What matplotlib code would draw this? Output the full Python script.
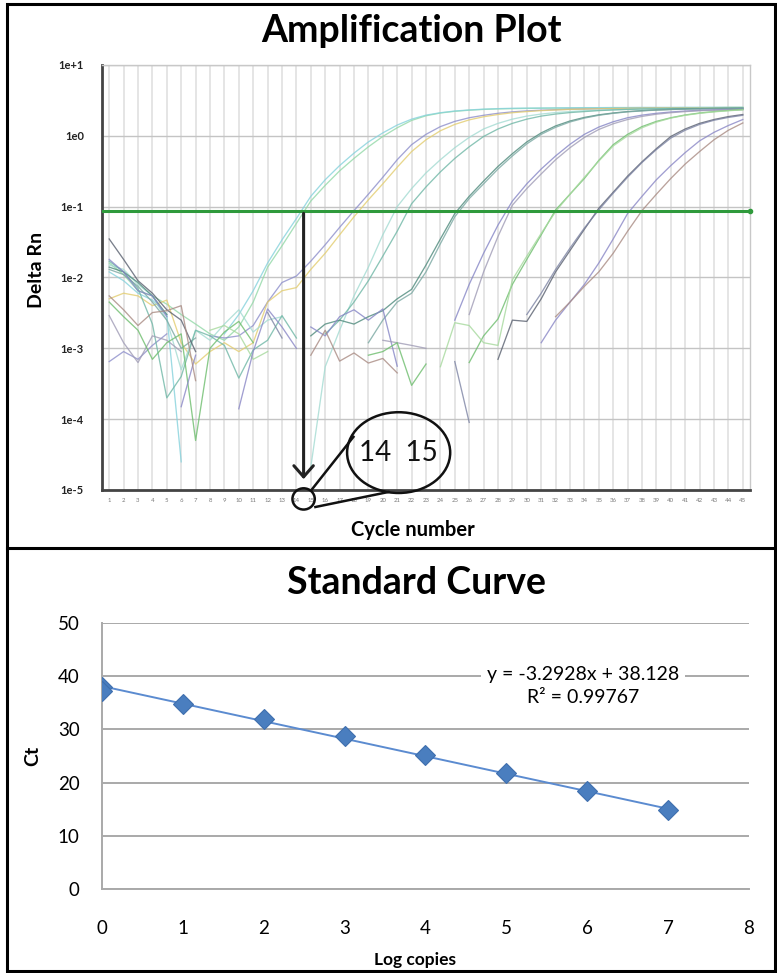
import numpy as np
import matplotlib.pyplot as plt
import matplotlib.transforms as mtransforms
from matplotlib.patches import Ellipse, Rectangle
from matplotlib.lines import Line2D

plt.rcParams['font.family'] = ['Lato', 'DejaVu Sans']

n = np.nan

# ---- Amplification plot data: Delta Rn per cycle (1..45), nan = not drawn ----
cycle_labels = [str(c) for c in range(1, 46)]
threshold = 0.088
ct_marked = 14.5
y_ticks = [1e-5, 1e-4, 1e-3, 1e-2, 1e-1, 1e0, 1e1]
y_ticklabels = ['1e-5', '1e-4', '1e-3', '1e-2', '1e-1', '1e0', '1e+1']

well_01 = [0.016, 0.011, 0.0065, 0.0055, 0.0042, 0.003, 0.0022, 0.0016, 0.0013, 0.002, 0.0045, 0.014, 0.028, 0.058, 0.12,
           0.2, 0.32, 0.48, 0.7, 0.98, 1.3, 1.65, 1.92, 2.1, 2.22, 2.3, 2.36, 2.4, 2.42, 2.44,
           2.45, 2.46, 2.46, 2.47, 2.47, 2.48, 2.48, 2.48, 2.49, 2.49, 2.49, 2.5, 2.5, 2.5, 2.5]
well_02 = [0.012, 0.009, 0.006, 0.0048, 0.003, 2.5e-5, n, n, 0.0016, 0.003, 0.0065, 0.016, 0.034, 0.068, 0.14,
           0.24, 0.38, 0.57, 0.82, 1.1, 1.42, 1.72, 1.96, 2.12, 2.24, 2.32, 2.38, 2.42, 2.45, 2.46,
           2.47, 2.48, 2.49, 2.5, 2.5, 2.51, 2.51, 2.52, 2.52, 2.52, 2.53, 2.53, 2.53, 2.54, 2.54]
well_03 = [6.5e-4, 9e-4, 7e-4, 0.0011, 0.0016, n, n, 0.0015, 0.0014, 0.0015, 0.0021, 0.0045, 0.0085, 0.0105, 0.017,
           0.029, 0.051, 0.088, 0.15, 0.26, 0.46, 0.75, 1.05, 1.35, 1.6, 1.8, 1.95, 2.08, 2.18, 2.25,
           2.3, 2.34, 2.37, 2.39, 2.41, 2.42, 2.43, 2.44, 2.45, 2.45, 2.46, 2.46, 2.47, 2.47, 2.48]
well_04 = [0.005, 0.006, 0.0055, 0.004, 0.0048, 0.0012, 6e-4, 9e-4, 0.0012, 9e-4, 0.0012, 0.0045, 0.0065, 0.0072, 0.013,
           0.022, 0.04, 0.072, 0.125, 0.21, 0.36, 0.6, 0.88, 1.18, 1.45, 1.68, 1.86, 2.0, 2.12, 2.2,
           2.27, 2.32, 2.36, 2.39, 2.41, 2.43, 2.45, 2.46, 2.47, 2.48, 2.49, 2.5, 2.5, 2.51, 2.51]
well_05 = [0.015, 0.013, 0.008, 0.0055, 0.0025, 5e-4, 0.0018, 0.0013, 0.0022, 0.0035, 0.0017, 0.0025, 0.0028, n, 2.1e-5,
           5.5e-4, 0.0018, 0.0055, 0.014, 0.04, 0.1, 0.18, 0.3, 0.46, 0.68, 0.95, 1.25, 1.5, 1.72, 1.9,
           2.03, 2.13, 2.2, 2.26, 2.3, 2.34, 2.37, 2.4, 2.42, 2.44, 2.45, 2.46, 2.47, 2.48, 2.49]
well_06 = [0.017, 0.012, 0.007, 0.0022, 2e-4, 4e-4, 0.0018, 0.0015, 0.0011, 3.8e-4, 9.5e-4, 0.0013, 0.0029, 0.0014, n,
           0.0016, 0.0025, 0.0045, 0.009, 0.02, 0.045, 0.11, 0.19, 0.31, 0.48, 0.7, 0.98, 1.25, 1.5, 1.72,
           1.9, 2.03, 2.13, 2.2, 2.27, 2.32, 2.36, 2.39, 2.41, 2.43, 2.44, 2.45, 2.46, 2.47, 2.48]
well_07 = [0.014, 0.012, 0.0085, 0.0055, 0.003, n, n, n, n, n, n, n, n, n, 0.0015,
           0.0022, 0.0025, 0.0022, 0.0028, 0.0034, 0.005, 0.0068, 0.015, 0.035, 0.08, 0.14, 0.23, 0.37, 0.56, 0.82,
           1.1, 1.38, 1.62, 1.82, 1.98, 2.1, 2.2, 2.27, 2.32, 2.36, 2.39, 2.41, 2.43, 2.44, 2.45]
well_08 = [0.013, 0.011, 0.0075, 0.0045, 0.0025, 0.001, 0.0014, n, n, n, n, n, n, n, n,
           n, n, n, 0.0012, 0.0025, 0.0045, 0.006, 0.012, 0.03, 0.072, 0.13, 0.21, 0.34, 0.52, 0.77,
           1.05, 1.32, 1.57, 1.78, 1.95, 2.08, 2.18, 2.25, 2.31, 2.35, 2.38, 2.4, 2.42, 2.43, 2.44]
well_09 = [0.018, 0.012, 0.0065, 0.0055, 0.0028, n, n, n, n, n, n, n, n, n, 0.002,
           0.0015, 0.0028, 0.0035, 0.0025, 0.0036, 5.6e-4, n, n, n, 0.0025, 0.008, 0.022, 0.055, 0.12, 0.21,
           0.34, 0.52, 0.76, 1.05, 1.33, 1.58, 1.8, 1.96, 2.08, 2.17, 2.24, 2.29, 2.33, 2.36, 2.38]
well_10 = [0.0029, 0.0012, 6.3e-4, 0.0015, 0.0013, 9e-4, n, n, n, n, n, n, n, n, n,
           n, n, n, n, 0.0013, 0.0012, 0.0011, 0.001, n, n, 0.003, 0.012, 0.038, 0.105, 0.18,
           0.29, 0.46, 0.68, 0.95, 1.23, 1.48, 1.7, 1.88, 2.02, 2.12, 2.2, 2.26, 2.3, 2.33, 2.35]
well_11 = [0.0045, 0.0028, 0.0018, 7e-4, 0.0012, 0.0016, 5e-5, 0.001, 0.0017, 0.0024, 0.0012, n, n, n, n,
           n, n, n, 8e-4, 9e-4, 0.0012, 3e-4, 6e-4, n, n, 6.3e-4, 0.0015, 0.0026, 0.008, 0.018,
           0.04, 0.09, 0.15, 0.25, 0.45, 0.75, 1.05, 1.35, 1.6, 1.8, 1.97, 2.1, 2.2, 2.28, 2.35]
well_12 = [n, n, n, n, n, n, n, 0.0018, 0.0021, 0.0016, 7e-4, 9e-4, n, n, n,
           n, n, n, n, n, n, n, n, 5.5e-4, 0.0023, 0.0021, 0.0012, 0.0011, 0.0093, 0.02,
           0.042, 0.085, 0.15, 0.26, 0.44, 0.72, 1.0, 1.3, 1.56, 1.78, 1.95, 2.08, 2.18, 2.26, 2.33]
well_13 = [0.035, 0.018, 0.009, 0.006, 0.0035, 0.0025, 9e-4, n, n, n, n, n, n, n, n,
           n, n, n, n, n, n, n, n, n, n, n, n, 7e-4, 0.0025, 0.0024,
           0.005, 0.012, 0.024, 0.048, 0.095, 0.16, 0.27, 0.43, 0.66, 0.98, 1.25, 1.5, 1.7, 1.87, 2.0]
well_14 = [n, n, n, n, n, n, n, n, n, n, n, 0.0032, 0.0014, n, n,
           n, n, n, n, n, n, n, n, n, 6.5e-4, 9e-5, n, n, n, 0.003,
           0.006, 0.013, 0.026, 0.05, 0.09, 0.155, 0.26, 0.42, 0.64, 0.93, 1.2, 1.45, 1.66, 1.82, 1.95]
well_15 = [n, n, n, n, n, 1.5e-4, 8e-4, n, n, 1.4e-4, 9e-4, 0.0036, 0.002, 0.001, n,
           n, n, n, n, n, n, n, n, n, n, n, n, n, n, n,
           0.0012, 0.0025, 0.0045, 0.008, 0.016, 0.035, 0.08, 0.14, 0.24, 0.38, 0.58, 0.85, 1.12, 1.4, 1.7]
well_16 = [0.0055, 0.0035, 0.0021, 0.0032, 0.0034, 0.004, 3.5e-4, n, n, n, n, n, n, n, 8e-4,
           0.0018, 6.6e-4, 8.6e-4, 6.2e-4, 7.2e-4, 4.5e-4, n, n, n, n, n, n, n, n, n,
           n, 0.0028, 0.0045, 0.0075, 0.012, 0.022, 0.045, 0.088, 0.15, 0.25, 0.4, 0.6, 0.88, 1.2, 1.52]

wells = [well_01, well_02, well_03, well_04, well_05, well_06, well_07, well_08,
         well_09, well_10, well_11, well_12, well_13, well_14, well_15, well_16]
well_colors = ['#93d9a8', '#86d2dc', '#8e8fcb', '#e3cd70', '#a4dbd2', '#6fb7a6', '#4e8a7c', '#7aa8a2',
               '#8686c6', '#a09cb6', '#6dbd6d', '#a6d99d', '#59606f', '#7d84a4', '#8a87c6', '#a98b83']

# ---- Standard curve data ----
log_copies = [0, 0, 1, 2, 3, 4, 5, 6, 7]
ct_values = [37.9, 37.3, 34.8, 32.0, 28.8, 25.2, 21.8, 18.5, 14.9]
slope = -3.2928
intercept = 38.128
r_squared = 0.99767

W, H = 777, 973
fig = plt.figure(figsize=(W / 100, H / 100), dpi=100)

# outer frame and divider
fig.add_artist(Rectangle((7 / W, 1 - 971 / H), 768 / W, 967 / H, transform=fig.transFigure,
                         fill=False, lw=2.2, ec='black'))
fig.add_artist(Line2D([7 / W, 775 / W], [1 - 548 / H, 1 - 548 / H], transform=fig.transFigure,
                      lw=2.2, color='black'))

# ================= Amplification plot =================
ax = fig.add_axes([102 / W, 1 - 490 / H, 648 / W, 425 / H])
ax.set_yscale('log')
for vals, col in zip(wells, well_colors):
    x = np.arange(1, len(vals) + 1)
    ax.plot(x, vals, color=col, lw=0.95, alpha=0.8)

ax.axhline(threshold, color='#2f9a3c', lw=2.2, zorder=3)
ax.plot([45.5], [threshold], 'o', color='#2f9a3c', ms=3, clip_on=False, zorder=3)

ax.set_xlim(0.5, 45.5)
ax.set_ylim(1e-5, 1e1)
ax.set_xticks(np.arange(1, 46))
ax.set_xticklabels(cycle_labels, fontsize=4.3, color='#777777')
ax.set_yticks(y_ticks)
ax.set_yticklabels(y_ticklabels, fontsize=8, fontweight='bold', color='#222222')
ax.yaxis.set_minor_locator(plt.NullLocator())
ax.tick_params(axis='both', length=0)
ax.tick_params(axis='x', pad=6)
ax.tick_params(axis='y', pad=13)
ax.grid(axis='x', color='#dedede', lw=1.1)
ax.grid(axis='y', color='#c4c4c4', lw=1.0)
ax.set_axisbelow(True)
for side in ['left', 'bottom']:
    ax.spines[side].set_color('#444444')
    ax.spines[side].set_linewidth(2.0)
for side in ['top', 'right']:
    ax.spines[side].set_color('#c8c8c8')
    ax.spines[side].set_linewidth(1.0)

# arrow from threshold crossing down to the axis
ax.annotate('', xy=(ct_marked, 1.3e-5), xytext=(ct_marked, threshold),
            arrowprops=dict(arrowstyle='->,head_length=0.8,head_width=0.7', lw=2.2, color='#222222'),
            zorder=4)

# magnified tick labels
trans = mtransforms.blended_transform_factory(ax.transData, ax.transAxes)
ax.add_patch(Ellipse((ct_marked, -0.021), 1.55, 0.05, transform=trans, fill=False,
                     lw=1.8, ec='#111111', clip_on=False, zorder=5))
ax.add_patch(Ellipse((21.1, 0.088), 7.16, 0.19, transform=trans, fill=False,
                     lw=1.8, ec='#111111', clip_on=False, zorder=5))
ax.add_line(Line2D([15.1, 17.96], [0.0024, 0.125], transform=trans, lw=1.8,
                   color='#111111', clip_on=False, zorder=5))
ax.add_line(Line2D([15.32, 20.39], [-0.04, -0.0047], transform=trans, lw=1.8,
                   color='#111111', clip_on=False, zorder=5))
ax.text(21.1, 0.088, '14  15', transform=trans, ha='center', va='center', fontsize=20,
        color='#111111', zorder=6)

fig.text(411 / W, 1 - 31 / H, 'Amplification Plot', ha='center', va='center',
         fontsize=27, fontweight='bold')
fig.text(37 / W, 1 - 270 / H, 'Delta Rn', ha='center', va='center', rotation=90,
         fontsize=14, fontweight='bold')
fig.text(413 / W, 1 - 530 / H, 'Cycle number', ha='center', va='center',
         fontsize=14.5, fontweight='bold')

# ================= Standard curve =================
ax2 = fig.add_axes([102 / W, 1 - 889 / H, 647 / W, 266 / H])
xfit = np.array([min(log_copies), max(log_copies)])
ax2.plot(xfit, slope * xfit + intercept, color='#5b8bd0', lw=1.4, zorder=3)
ax2.plot(log_copies, ct_values, 'D', color='#4a7ebf', ms=10.5, mec='#3f6fae', mew=0.8, zorder=4)

ax2.set_xlim(0, 8)
ax2.set_ylim(0, 50)
ax2.set_xticks(range(0, 9))
ax2.set_yticks(range(0, 51, 10))
ax2.tick_params(axis='both', length=0, labelsize=13.5)
ax2.tick_params(axis='x', pad=22)
ax2.tick_params(axis='y', pad=16)
ax2.grid(axis='y', color='#a9a9a9', lw=1.4)
ax2.set_axisbelow(True)
for side in ['top', 'right']:
    ax2.spines[side].set_visible(False)
for side in ['left', 'bottom']:
    ax2.spines[side].set_color('#a9a9a9')
    ax2.spines[side].set_linewidth(1.4)

ax2.text(5.95, 38.1, f'y = {slope}x + {intercept}\nR\u00b2 = {r_squared}', ha='center', va='center',
         fontsize=14, linespacing=1.45, zorder=5,
         bbox=dict(boxstyle='square,pad=0.3', fc='white', ec='none'))

fig.text(416 / W, 1 - 583 / H, 'Standard Curve', ha='center', va='center',
         fontsize=27, fontweight='bold')
fig.text(33 / W, 1 - 756 / H, 'Ct', ha='center', va='center', rotation=90,
         fontsize=14, fontweight='bold')
fig.text(415 / W, 1 - 960 / H, 'Log copies', ha='center', va='center',
         fontsize=12.5, fontweight='bold')

fig.savefig('out.png', dpi=100)
